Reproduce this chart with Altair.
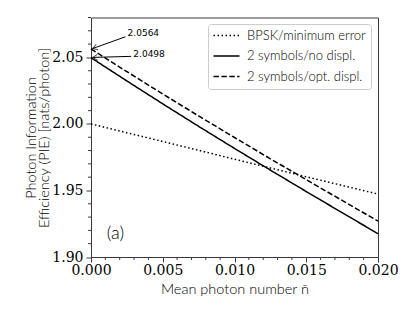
import altair as alt
import pandas as pd

# ---- data ----
n_bar = [0.0, 0.0025, 0.005, 0.0075, 0.01, 0.0125, 0.015, 0.0175, 0.02]
pie_bpsk = [2.0000, 1.9934, 1.9868, 1.9802, 1.9735, 1.9669, 1.9603, 1.9538, 1.9473]
pie_no_displ = [2.0498, 2.0323, 2.0151, 1.9982, 1.9816, 1.9653, 1.9492, 1.9333, 1.9175]
pie_opt_displ = [2.0564, 2.0393, 2.0225, 2.0060, 1.9898, 1.9738, 1.9581, 1.9425, 1.9270]
series_names = ["BPSK/minimum error", "2 symbols/no displ.", "2 symbols/opt. displ."]

x_major_ticks = [0.0, 0.005, 0.01, 0.015, 0.02]
x_minor_ticks = [i / 1000 for i in range(0, 21) if i % 5 != 0]
y_major_ticks = [1.90, 1.95, 2.00, 2.05]
y_minor_ticks = [round(1.90 + i * 0.01, 2) for i in range(0, 19) if i % 5 != 0]

ann_labels = ["2.0564", "2.0498"]
ann_text_x = [0.00255, 0.00295]
ann_text_y = [2.0686, 2.0522]
ann_tail_x = [0.0024, 0.0028]
ann_tail_y = [2.0655, 2.0508]
ann_tip_x = [0.00012, 0.00012]
ann_tip_y = [2.0567, 2.0500]
ann_angle = [161.5, 178.5]

panel_label = ["(a)"]
panel_x = [0.0017]
panel_y = [1.9172]

SANS = "Lato"
SERIF = "DejaVu Serif"
AX = "#3a3a3a"
W, H = 287, 239.5

rows = []
for name, vals in zip(series_names, [pie_bpsk, pie_no_displ, pie_opt_displ]):
    for n, v in zip(n_bar, vals):
        rows.append({"series": name, "n": n, "pie": v})
df = pd.DataFrame(rows)

ann = pd.DataFrame({
    "label": ann_labels, "tx": ann_text_x, "ty": ann_text_y,
    "x0": ann_tail_x, "y0": ann_tail_y, "x1": ann_tip_x, "y1": ann_tip_y,
    "ang": ann_angle,
})
panel = pd.DataFrame({"label": panel_label, "x": panel_x, "y": panel_y})
xminor = pd.DataFrame({"t": x_minor_ticks})
yminor = pd.DataFrame({"t": y_minor_ticks})

xscale = alt.Scale(domain=[0, 0.02], nice=False, zero=False)
yscale = alt.Scale(domain=[1.90, 2.08], nice=False, zero=False)

xaxis = alt.Axis(
    values=x_major_ticks, format=".3f", tickSize=5,
    labelOverlap=False, labelFlush=False, grid=False,
    domainColor=AX, tickColor=AX, labelColor="black",
    labelFont=SERIF, labelFontSize=14, labelPadding=1,
    title="Mean photon number n\u0304", titleFont=SANS, titleFontSize=14.5,
    titleFontWeight=300, titleColor="black", titleBaseline="alphabetic", titleY=36,
)
yaxis = alt.Axis(
    values=y_major_ticks, format=".2f", tickSize=5,
    labelOverlap=False, labelFlush=False, grid=False,
    domainColor=AX, tickColor=AX, labelColor="black",
    labelFont=SERIF, labelFontSize=14, labelPadding=3,
    title=["Photon Information", "Efficiency (PIE) [nats/photon]"],
    titleFont=SANS, titleFontSize=14.5, titleFontWeight=300, titleColor="black",
    titleLineHeight=13, titleX=-53, titleY=120, titleAngle=270, titleBaseline="bottom",
)

lines = alt.Chart(df).mark_line(color="black", strokeWidth=1.5).encode(
    x=alt.X("n:Q", scale=xscale, axis=xaxis),
    y=alt.Y("pie:Q", scale=yscale, axis=yaxis),
    strokeDash=alt.StrokeDash(
        "series:N",
        scale=alt.Scale(domain=series_names, range=[[1.5, 2.5], [1, 0], [5.5, 2.4]]),
        sort=series_names,
        legend=alt.Legend(
            orient="none", legendX=117, legendY=6.5, title=None,
            fillColor="white", strokeColor="#cccccc", cornerRadius=3, padding=5,
            labelFont=SANS, labelFontSize=13, labelFontWeight=300, labelColor="black",
            symbolType="M-2.6,0L2.6,0", symbolStrokeWidth=1.5, symbolStrokeColor="black",
            symbolSize=100, symbolOffset=7, labelOffset=14, rowPadding=6.5,
        ),
    ),
    order=alt.Order("n:Q"),
)

xminor_marks = alt.Chart(xminor).mark_rule(color=AX, strokeWidth=1).encode(
    x=alt.X("t:Q", scale=xscale), y=alt.value(H), y2=alt.value(H + 3)
)
yminor_marks = alt.Chart(yminor).mark_rule(color=AX, strokeWidth=1).encode(
    y=alt.Y("t:Q", scale=yscale), x=alt.value(0), x2=alt.value(-3)
)

shafts = alt.Chart(ann).mark_rule(color="black", strokeWidth=1).encode(
    x="x0:Q", y="y0:Q", x2="x1:Q", y2="y1:Q"
)
heads = alt.Chart(ann).mark_point(
    shape="M-1,-0.6L0,0L-1,0.6", filled=False, color="black", strokeWidth=1, size=90
).encode(x="x1:Q", y="y1:Q", angle=alt.Angle("ang:Q", scale=None))
texts = alt.Chart(ann).mark_text(
    align="left", baseline="middle", font="DejaVu Sans", fontSize=9, color="black"
).encode(x="tx:Q", y="ty:Q", text="label:N")
panel_txt = alt.Chart(panel).mark_text(
    align="center", baseline="middle", font=SANS, fontSize=18, fontWeight=300, color="black"
).encode(x="x:Q", y="y:Q", text="label:N")

chart = alt.layer(
    lines, xminor_marks, yminor_marks, shafts, heads, texts, panel_txt
).properties(
    width=W, height=H,
    autosize=alt.AutoSizeParams(type="none"),
    padding={"left": 83, "top": 9.5, "right": 29, "bottom": 47},
).configure_view(stroke=AX, strokeWidth=1)

chart.save("out.html", embed_options={"renderer": "svg", "actions": False})
